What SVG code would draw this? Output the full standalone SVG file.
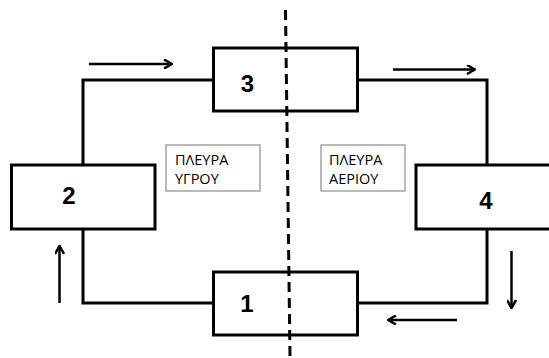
<svg xmlns="http://www.w3.org/2000/svg" width="549" height="358" viewBox="0 0 549 358">
<defs>
<marker id="ah" viewBox="0 0 10 10" refX="9" refY="5" markerWidth="10" markerHeight="10" markerUnits="userSpaceOnUse" orient="auto">
<path d="M1,0.5 L9,5 L1,9.5" fill="none" stroke="#000" stroke-width="2.5"/>
</marker>
</defs>
<style>
.box{fill:#fff;stroke:#000;stroke-width:3}
.pipe{fill:none;stroke:#000;stroke-width:3}
.arr{fill:none;stroke:#000;stroke-width:2.5;marker-end:url(#ah)}
.num{font-family:"Liberation Sans",Arial,sans-serif;font-weight:bold;font-size:24px;text-anchor:middle}
.lab{fill:#fff;stroke:#8c8c8c;stroke-width:1.2}
.lt{font-family:"Open Sans","Noto Sans",sans-serif;font-size:14.5px;fill:#000}
.dash{stroke:#000;stroke-width:3;stroke-dasharray:10,6}
</style>
<rect width="549" height="358" fill="#fff"/>
<g id="connectors">
<polyline class="pipe" points="213,80 83,80 83,165"/>
<polyline class="pipe" points="357,80 487,80 487,165"/>
<polyline class="pipe" points="83,229 83,303 213,303"/>
<polyline class="pipe" points="487,229 487,303 357,303"/>
<line class="arr" x1="89" y1="64" x2="172" y2="64"/>
<line class="arr" x1="393" y1="69.5" x2="475" y2="69.5"/>
<line class="arr" x1="59.5" y1="303" x2="59.5" y2="246"/>
<line class="arr" x1="511.5" y1="251" x2="511.5" y2="308"/>
<line class="arr" x1="457" y1="320" x2="388" y2="320"/>
</g>
<g id="node3"><rect class="box" x="213.5" y="48" width="144" height="63"/><text class="num" x="247.5" y="91.5">3</text></g>
<g id="node2"><rect class="box" x="11.5" y="165" width="143.5" height="64"/><text class="num" x="69" y="204">2</text></g>
<g id="node4"><rect class="box" x="416" y="165" width="140" height="64"/><text class="num" x="486" y="208.5">4</text></g>
<g id="node1"><rect class="box" x="213.5" y="272" width="144" height="63"/><text class="num" x="247" y="311.5">1</text></g>
<g id="label-liquid"><rect class="lab" x="166" y="145" width="94" height="46"/><text class="lt" x="175" y="164.5">ΠΛΕΥΡΑ</text><text class="lt" x="175" y="184">ΥΓΡΟΥ</text></g>
<g id="label-gas"><rect class="lab" x="321" y="145" width="84" height="46"/><text class="lt" x="329" y="164.5">ΠΛΕΥΡΑ</text><text class="lt" x="329" y="184">ΑΕΡΙΟΥ</text></g>
<g id="divider"><line class="dash" x1="285.5" y1="10" x2="290" y2="356"/></g>
</svg>
